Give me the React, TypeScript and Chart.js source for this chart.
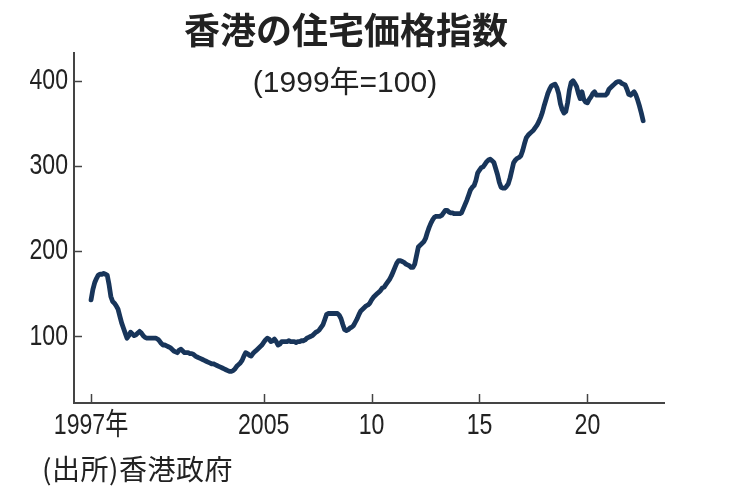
import React, { useEffect, useRef } from "react";
import { Chart, registerables } from "chart.js";

Chart.register(...registerables);

const titleText = "香港の住宅価格指数";
const subtitleText = "(1999年=100)";
const sourceText = "(出所)香港政府";

const startYear = 1997;
// monthly index values (1999 = 100), Jan..Dec
const idx1997 = [143, 155, 163, 168, 172, 173, 173, 174, 173, 172, 161, 147];
const idx1998 = [141, 139, 136, 132, 124, 116, 110, 104, 98, 101, 105, 103];
const idx1999 = [101, 102, 104, 106, 104, 101, 99, 98, 98, 98, 98, 98];
const idx2000 = [98, 97, 95, 92, 90, 90, 89, 88, 87, 85, 83, 82];
const idx2001 = [81, 84, 85, 83, 81, 81, 81, 80, 80, 79, 77, 76];
const idx2002 = [75, 74, 73, 72, 71, 70, 69, 68, 68, 67, 66, 65];
const idx2003 = [64, 63, 62, 61, 60, 59, 59, 60, 62, 65, 67, 69];
const idx2004 = [72, 77, 81, 80, 78, 77, 80, 82, 84, 86, 88, 90];
const idx2005 = [93, 96, 98, 97, 94, 95, 97, 94, 90, 91, 94, 94];
const idx2006 = [94, 94, 95, 94, 94, 94, 93, 94, 94, 95, 95, 96];
const idx2007 = [98, 99, 100, 101, 103, 105, 106, 108, 111, 114, 120, 126];
const idx2008 = [127, 127, 127, 127, 127, 127, 125, 121, 114, 108, 107, 108];
const idx2009 = [110, 111, 113, 117, 121, 126, 130, 132, 134, 136, 137, 139];
const idx2010 = [143, 146, 148, 150, 152, 154, 157, 158, 161, 164, 167, 171];
const idx2011 = [176, 181, 186, 189, 189, 188, 187, 185, 184, 183, 181, 181];
const idx2012 = [185, 195, 205, 207, 209, 211, 215, 222, 228, 233, 237, 240];
const idx2013 = [241, 241, 241, 242, 245, 248, 248, 246, 245, 245, 244, 244];
const idx2014 = [244, 244, 245, 250, 255, 260, 266, 272, 275, 277, 283, 292];
const idx2015 = [295, 298, 299, 302, 305, 307, 308, 306, 304, 297, 290, 281];
const idx2016 = [275, 274, 274, 276, 279, 286, 295, 304, 307, 309, 310, 312];
const idx2017 = [318, 326, 333, 336, 338, 340, 342, 345, 348, 352, 357, 363];
const idx2018 = [371, 378, 385, 390, 394, 395, 396, 392, 385, 373, 366, 362];
const idx2019 = [364, 374, 389, 398, 400, 397, 393, 385, 379, 387, 378, 375];
const idx2020 = [374, 378, 381, 385, 387, 383, 383, 383, 383, 383, 383, 385];
const idx2021 = [390, 392, 394, 396, 398, 399, 399, 397, 396, 395, 390, 384];
const idx2022 = [383, 385, 387, 383, 377, 370, 362, 353];

const yearlySeries = [
  idx1997, idx1998, idx1999, idx2000, idx2001, idx2002, idx2003, idx2004,
  idx2005, idx2006, idx2007, idx2008, idx2009, idx2010, idx2011, idx2012,
  idx2013, idx2014, idx2015, idx2016, idx2017, idx2018, idx2019, idx2020,
  idx2021, idx2022,
];

const xTickValues = [1997, 2005, 2010, 2015, 2020];
const xTickLabels = ["1997年", "2005", "10", "15", "20"];
const yTickValues = [100, 200, 300, 400];

const LINE_COLOR = "#18355a";
const AXIS_COLOR = "#444444";
const TEXT_COLOR = "#222222";
const LABEL_FONT = "30px 'Liberation Sans', 'Noto Sans CJK JP', sans-serif";
const SQUEEZE = 0.77;

const axisDecor = {
  id: "axisDecor",
  afterDraw(chart: any) {
    const { ctx, chartArea, scales } = chart;
    ctx.save();
    ctx.strokeStyle = AXIS_COLOR;
    ctx.lineWidth = 1.5;
    scales.y.ticks.forEach((t: any) => {
      const p = Math.round(scales.y.getPixelForValue(t.value)) + 0.5;
      ctx.beginPath();
      ctx.moveTo(chartArea.left, p);
      ctx.lineTo(chartArea.left + 8, p);
      ctx.stroke();
    });
    scales.x.ticks.forEach((t: any) => {
      const p = Math.round(scales.x.getPixelForValue(t.value)) + 0.5;
      ctx.beginPath();
      ctx.moveTo(p, chartArea.bottom);
      ctx.lineTo(p, chartArea.bottom - 9);
      ctx.stroke();
    });

    ctx.fillStyle = TEXT_COLOR;
    ctx.font = LABEL_FONT;
    ctx.textBaseline = "middle";
    ctx.textAlign = "right";
    yTickValues.forEach((v) => {
      const p = scales.y.getPixelForValue(v);
      ctx.save();
      ctx.translate(chartArea.left - 6, p);
      ctx.scale(SQUEEZE, 1);
      ctx.fillText(String(v), 0, 0);
      ctx.restore();
    });
    ctx.textAlign = "center";
    xTickValues.forEach((v, i) => {
      const p = scales.x.getPixelForValue(v);
      ctx.save();
      ctx.translate(p, chartArea.bottom + 23);
      ctx.scale(SQUEEZE, 1);
      ctx.fillText(xTickLabels[i], 0, 0);
      ctx.restore();
    });
    ctx.restore();
  },
};

export default function App() {
  const canvasRef = useRef<HTMLCanvasElement | null>(null);

  useEffect(() => {
    const points = yearlySeries.flatMap((arr, i) =>
      arr.map((v, m) => ({ x: startYear + i + m / 12, y: v }))
    );
    const chart = new Chart(canvasRef.current as HTMLCanvasElement, {
      type: "line",
      data: {
        datasets: [
          {
            data: points,
            borderColor: LINE_COLOR,
            borderWidth: 4.8,
            pointRadius: 0,
            tension: 0,
            borderJoinStyle: "round",
            borderCapStyle: "round",
            fill: false,
          },
        ],
      },
      options: {
        responsive: false,
        animation: false,
        events: [],
        layout: { padding: { top: 53, right: 73, bottom: 0, left: 0 } },
        plugins: {
          legend: { display: false },
          title: { display: false },
          tooltip: { enabled: false },
        },
        scales: {
          x: {
            type: "linear",
            min: 1996.21,
            max: 2023.55,
            grid: { display: false, drawTicks: false },
            border: { display: true, color: AXIS_COLOR, width: 2 },
            afterBuildTicks: (s: any) => {
              s.ticks = xTickValues.map((v) => ({ value: v }));
            },
            afterFit: (s: any) => {
              s.height = 100;
            },
            ticks: { display: false },
          },
          y: {
            type: "linear",
            min: 22,
            max: 432.5,
            grid: { display: false, drawTicks: false },
            border: { display: true, color: AXIS_COLOR, width: 2 },
            afterBuildTicks: (s: any) => {
              s.ticks = yTickValues.map((v) => ({ value: v }));
            },
            afterFit: (s: any) => {
              s.width = 74;
            },
            ticks: { display: false },
          },
        },
      },
      plugins: [axisDecor],
    } as any);
    return () => chart.destroy();
  }, []);

  return (
    <div
      style={{
        position: "fixed",
        left: 0,
        top: 0,
        width: 737,
        height: 503,
        background: "#ffffff",
        overflow: "hidden",
      }}
    >
      <canvas
        ref={canvasRef}
        width={737}
        height={503}
        style={{ position: "absolute", left: 0, top: 0, width: 737, height: 503 }}
      />
      <div
        style={{
          position: "absolute",
          left: 346,
          top: 10,
          transform: "translateX(-50%)",
          whiteSpace: "nowrap",
          fontFamily: "'Noto Sans CJK JP', sans-serif",
          fontWeight: 700,
          fontSize: 36,
          lineHeight: "36px",
          color: TEXT_COLOR,
        }}
      >
        {titleText}
      </div>
      <div
        style={{
          position: "absolute",
          left: 345,
          top: 66,
          transform: "translateX(-50%)",
          whiteSpace: "nowrap",
          fontFamily: "'Liberation Sans', 'Noto Sans CJK JP', sans-serif",
          fontSize: 30,
          lineHeight: "32px",
          color: TEXT_COLOR,
        }}
      >
        {subtitleText}
      </div>
      <div
        style={{
          position: "absolute",
          left: 42,
          top: 453,
          whiteSpace: "nowrap",
          fontFamily: "'Noto Sans CJK JP', sans-serif",
          fontSize: 28,
          lineHeight: "30px",
          letterSpacing: "0.5px",
          color: TEXT_COLOR,
        }}
      >
        {sourceText}
      </div>
    </div>
  );
}
